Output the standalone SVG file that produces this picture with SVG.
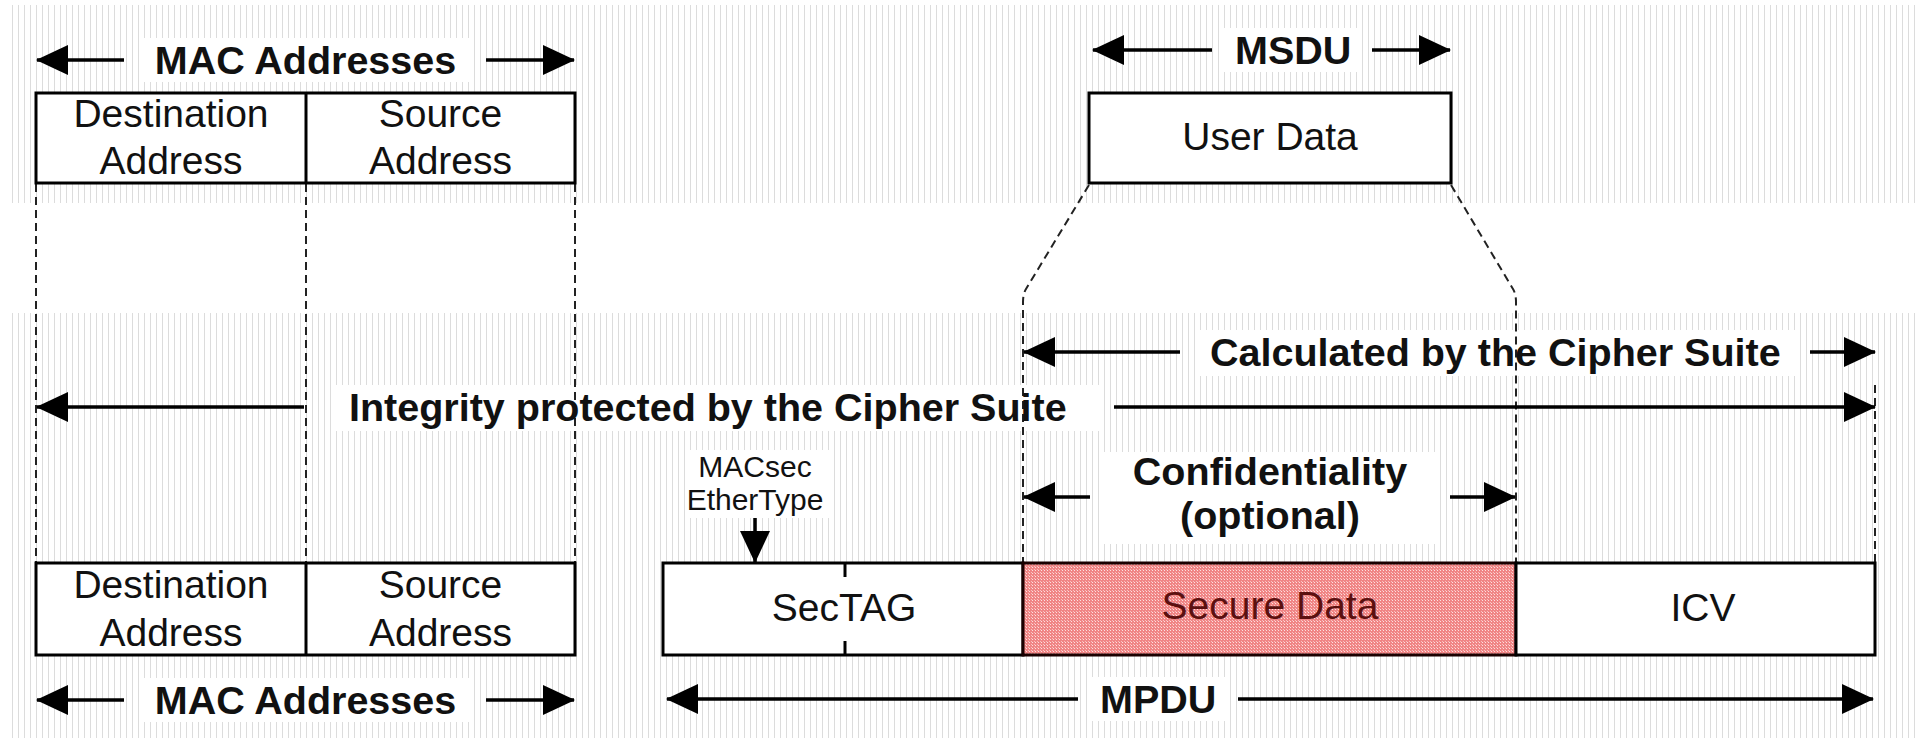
<svg xmlns="http://www.w3.org/2000/svg" width="1919" height="743" viewBox="0 0 1919 743">
  <defs>
    <style>
      .lbl { font-family: "Liberation Sans", Arial, sans-serif; font-weight: bold; font-size: 39.5px; fill: #111; }
      .txt { font-family: "Liberation Sans", Arial, sans-serif; font-size: 39px; fill: #111; text-anchor: middle; }
      .sm  { font-family: "Liberation Sans", Arial, sans-serif; font-size: 30px; fill: #111; text-anchor: middle; }
      .box { fill: #fff; stroke: #000; stroke-width: 3; }
      .div { stroke: #000; stroke-width: 3; fill: none; }
      .dash { stroke: #222; stroke-width: 2; stroke-dasharray: 8 5; fill: none; }
      .arr { stroke: #000; stroke-width: 3.5; fill: none; }
      .bg { fill: #fff; }
    </style>
    <pattern id="scan" width="6" height="10" patternUnits="userSpaceOnUse">
      <rect x="0" y="0" width="6" height="10" fill="#fff"/>
      <rect x="0" y="0" width="1" height="10" fill="#dcdcdc"/>
    </pattern>
    <pattern id="dots" width="3" height="3" patternUnits="userSpaceOnUse">
      <rect x="0" y="0" width="3" height="3" fill="#f08585"/>
      <rect x="0" y="0" width="1" height="1" fill="#fde0e0"/>
      <rect x="2" y="2" width="1" height="1" fill="#f8c0c0"/>
    </pattern>
    <marker id="ah" viewBox="0 0 32 30" refX="31" refY="15" markerWidth="32" markerHeight="30" markerUnits="userSpaceOnUse" orient="auto-start-reverse">
      <path d="M0,0 L32,15 L0,30 Z" fill="#000"/>
    </marker>
  </defs>

  <!-- paper -->
  <rect x="0" y="0" width="1919" height="743" fill="#fff"/>
  <rect x="8" y="5" width="1907" height="198" fill="url(#scan)"/>
  <rect x="8" y="313" width="1907" height="425" fill="url(#scan)"/>

  <!-- label backdrops -->
  <g id="backdrops">
    <rect class="bg" x="140" y="38" width="330" height="44"/>
    <rect class="bg" x="1222" y="28" width="140" height="44"/>
    <rect class="bg" x="1195" y="330" width="605" height="46"/>
    <rect class="bg" x="334" y="385" width="770" height="46"/>
    <rect class="bg" x="1100" y="452" width="340" height="92"/>
    <rect class="bg" x="685" y="450" width="145" height="68"/>
    <rect class="bg" x="140" y="678" width="330" height="44"/>
    <rect class="bg" x="1088" y="677" width="140" height="44"/>
  </g>

  <!-- connectors: guide lines and span arrows -->
  <g id="connectors">
    <line class="dash" x1="36" y1="184" x2="36" y2="562"/>
    <line class="dash" x1="306" y1="184" x2="306" y2="562"/>
    <line class="dash" x1="575" y1="184" x2="575" y2="562"/>
    <path class="dash" d="M1089,185 L1026,289 Q1023,294 1023,302 L1023,562"/>
    <path class="dash" d="M1451,185 L1513,289 Q1516,294 1516,302 L1516,562"/>
    <line class="dash" x1="1875" y1="385" x2="1875" y2="562"/>

    <line class="arr" x1="124" y1="60" x2="37" y2="60" marker-end="url(#ah)"/>
    <line class="arr" x1="486" y1="60" x2="574" y2="60" marker-end="url(#ah)"/>

    <line class="arr" x1="1212" y1="50" x2="1093" y2="50" marker-end="url(#ah)"/>
    <line class="arr" x1="1372" y1="50" x2="1450" y2="50" marker-end="url(#ah)"/>

    <line class="arr" x1="1180" y1="352" x2="1024" y2="352" marker-end="url(#ah)"/>
    <line class="arr" x1="1810" y1="352" x2="1875" y2="352" marker-end="url(#ah)"/>

    <line class="arr" x1="304" y1="407" x2="37" y2="407" marker-end="url(#ah)"/>
    <line class="arr" x1="1114" y1="407" x2="1875" y2="407" marker-end="url(#ah)"/>

    <line class="arr" x1="1090" y1="497" x2="1024" y2="497" marker-end="url(#ah)"/>
    <line class="arr" x1="1450" y1="497" x2="1515" y2="497" marker-end="url(#ah)"/>

    <line class="arr" x1="755" y1="518" x2="755" y2="562" marker-end="url(#ah)"/>

    <line class="arr" x1="124" y1="700" x2="37" y2="700" marker-end="url(#ah)"/>
    <line class="arr" x1="486" y1="700" x2="574" y2="700" marker-end="url(#ah)"/>

    <line class="arr" x1="1078" y1="699" x2="667" y2="699" marker-end="url(#ah)"/>
    <line class="arr" x1="1238" y1="699" x2="1873" y2="699" marker-end="url(#ah)"/>
  </g>

  <!-- span labels -->
  <g id="labels">
    <text class="lbl" x="305.5" y="74" text-anchor="middle">MAC Addresses</text>
    <text class="lbl" x="1235" y="64">MSDU</text>
    <text class="lbl" x="1210" y="366">Calculated by the Cipher Suite</text>
    <text class="lbl" x="349" y="421">Integrity protected by the Cipher Suite</text>
    <text class="lbl" x="1270" y="485" text-anchor="middle">Confidentiality</text>
    <text class="lbl" x="1270" y="529" text-anchor="middle">(optional)</text>
    <text class="lbl" x="305.5" y="714" text-anchor="middle">MAC Addresses</text>
    <text class="lbl" x="1100" y="713">MPDU</text>
  </g>

  <!-- top frame: MAC addresses -->
  <g id="top-mac">
    <rect class="box" x="36" y="93" width="539" height="90"/>
    <line class="div" x1="306" y1="93" x2="306" y2="183"/>
    <text class="txt" x="171" y="127">Destination</text>
    <text class="txt" x="171" y="174">Address</text>
    <text class="txt" x="440.5" y="127">Source</text>
    <text class="txt" x="440.5" y="174">Address</text>
  </g>

  <!-- top frame: user data -->
  <g id="user-data">
    <rect class="box" x="1089" y="93" width="362" height="90"/>
    <text class="txt" x="1270" y="150">User Data</text>
  </g>

  <!-- bottom frame: MAC addresses -->
  <g id="bottom-mac">
    <rect class="box" x="36" y="563" width="539" height="92"/>
    <line class="div" x1="306" y1="563" x2="306" y2="655"/>
    <text class="txt" x="171" y="598">Destination</text>
    <text class="txt" x="171" y="646">Address</text>
    <text class="txt" x="440.5" y="598">Source</text>
    <text class="txt" x="440.5" y="646">Address</text>
  </g>

  <!-- MACsec EtherType note -->
  <g id="ethertype">
    <text class="sm" x="755" y="477">MACsec</text>
    <text class="sm" x="755" y="510">EtherType</text>
  </g>

  <!-- bottom frame: MPDU fields -->
  <g id="sectag">
    <rect class="box" x="663" y="563" width="360" height="92"/>
    <line class="div" x1="845" y1="563" x2="845" y2="577"/>
    <line class="div" x1="845" y1="641" x2="845" y2="655"/>
    <text class="txt" x="844" y="621">SecTAG</text>
  </g>
  <g id="secure-data">
    <rect x="1023" y="563" width="493" height="92" fill="url(#dots)" stroke="#1a0000" stroke-width="3"/>
    <text class="txt" x="1270" y="619" style="fill:#5c1010">Secure Data</text>
  </g>
  <g id="icv">
    <rect class="box" x="1516" y="563" width="359" height="92"/>
    <text class="txt" x="1703" y="621">ICV</text>
  </g>
</svg>
